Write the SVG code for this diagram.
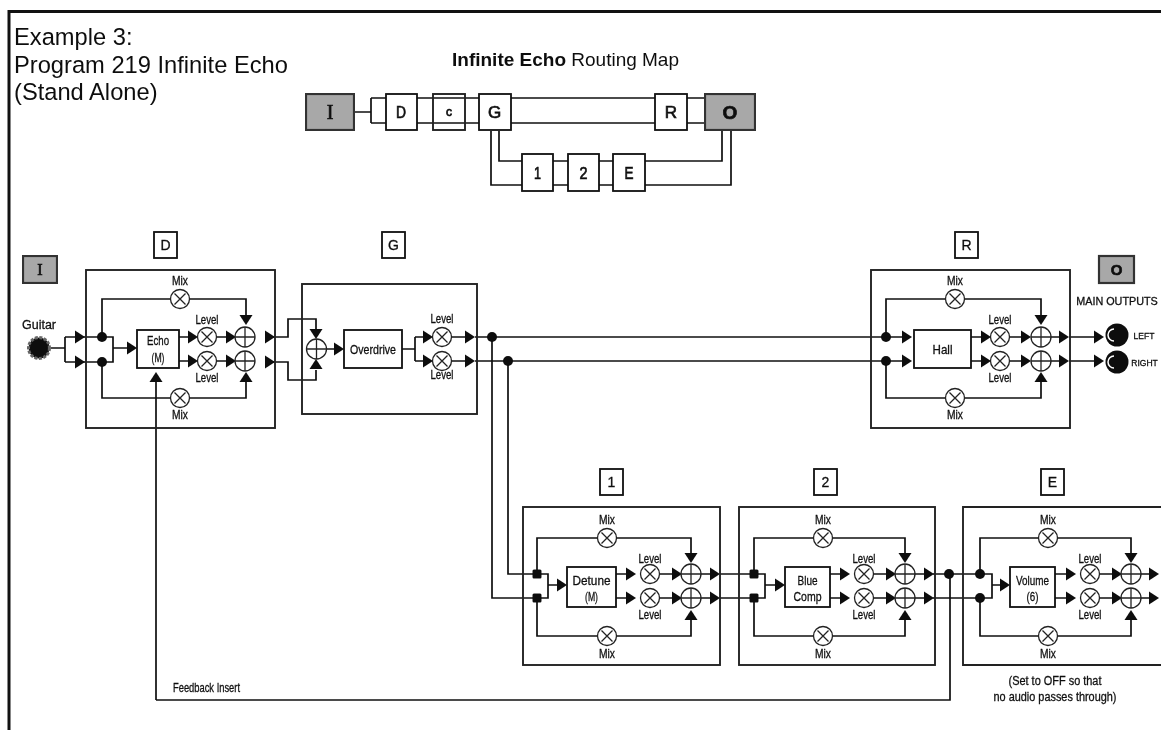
<svg xmlns="http://www.w3.org/2000/svg" width="1161" height="730" viewBox="0 0 1161 730">
<style>
text{font-family:"Liberation Sans",Arial,sans-serif;fill:#111}
.big{font-size:23.7px}
.map{font-size:19px}
.s{font-size:12.5px;text-anchor:middle;stroke:#111;stroke-width:.3}
.b{font-size:13px;text-anchor:middle;stroke:#111;stroke-width:.3}
.lab{font-size:14px;text-anchor:middle;stroke:#111;stroke-width:.3}
.l{font-size:17px;text-anchor:middle;stroke:#111;stroke-width:.7}
.w{fill:none;stroke:#111;stroke-width:1.7}
.box{fill:#fff;stroke:#111;stroke-width:1.8}
.blk{fill:none;stroke:#222;stroke-width:1.9}
.gr{fill:#a8a8a8;stroke:#333;stroke-width:2.2}
.sym{fill:#fff;stroke:#222;stroke-width:1.3}
.g1{filter:url(#soft)}
</style>
<defs>
<filter id="soft" x="-2%" y="-2%" width="104%" height="104%"><feGaussianBlur stdDeviation="0.35"/></filter>
<path id="r" d="M-10-6.500L0 0-10 6.500Z" fill="#111"/>
<path id="d" d="M-6.500-10L0 0 6.500-10Z" fill="#111"/>
<path id="u" d="M-6.500 10L0 0 6.500 10Z" fill="#111"/>
<circle id="dot" r="5" fill="#111"/>
<rect id="sq" x="-4.500" y="-4.500" width="9" height="9" rx="1.500" fill="#111"/>
<g id="x"><circle r="9.500" class="sym"/><path d="M-5.500-5.500L5.500 5.500M-5.500 5.500L5.500-5.500" class="sym"/></g>
<g id="p"><circle r="10" class="sym"/><path d="M-10 0H10M0-10V10" class="sym"/></g>
</defs>
<rect width="1161" height="730" fill="#fff"/>
<path id="frame" d="M9 730V11.500H1161" fill="none" stroke="#111" stroke-width="3"/>
<g id="titles" class="g1">
<text class="big" x="14" y="45">Example 3:</text>
<text class="big" x="14" y="73">Program 219 Infinite Echo</text>
<text class="big" x="14" y="100">(Stand Alone)</text>
<text class="map" x="452" y="66"><tspan font-weight="bold">Infinite Echo</tspan> Routing Map</text>
</g>
<g id="connectors" class="g1">
<path class="w" d="M354 112H371M371 98V123M371 98H705M371 123H705M499 131V161H722V131M491 131V185H731V131"/>
<path class="w" d="M51 348H65M65 337V362M65 337H113V362H65M113 348H127M102 337V299H246V315M102 362V398H246V382M179 337H188M179 361H188M217 337H226M217 361H226M265 337H288V319H316V330M265 362H288V380H316V370M156 700V382M156 700H950V574M327 349H335M402 349H415M415 337V361M415 337H423M415 361H423M452 337H465M452 361H465M475 337H902M475 361H902M492 337V598H548V574H508V361M548 585H557M537 574V538H691V553M537 598V636H691V620M616 574H626M616 598H626M660 574H672M660 598H672M701 574H710M701 598H710M720 574H765V598H720M765 585H775M754 574V538H905V553M754 598V636H905V620M830 574H840M830 598H840M874 574H886M874 598H886M915 574H924M915 598H924M933 574H992V598H933M992 585H1000M980 574V538H1131V553M980 598V636H1131V620M1055 574H1066M1055 598H1066M1100 574H1112M1100 598H1112M1141 574H1149M1141 598H1149M886 337V299H1041V315M886 361V398H1041V382M971 337H981M971 361H981M1010 337H1021M1010 361H1021M1051 337H1059M1051 361H1059M1069 337H1094M1069 361H1094"/>
<g id="arrows">
<use href="#r" x="85" y="337"/><use href="#r" x="85" y="362"/><use href="#r" x="137" y="348"/>
<use href="#d" x="246" y="325"/><use href="#u" x="246" y="372"/><use href="#u" x="156" y="372"/>
<use href="#r" x="198" y="337"/><use href="#r" x="198" y="361"/><use href="#r" x="236" y="337"/><use href="#r" x="236" y="361"/>
<use href="#r" x="275" y="337"/><use href="#r" x="275" y="362"/>
<use href="#d" x="316" y="339"/><use href="#u" x="316" y="359"/><use href="#r" x="344" y="349"/>
<use href="#r" x="433" y="337"/><use href="#r" x="433" y="361"/><use href="#r" x="475" y="337"/><use href="#r" x="475" y="361"/>
<use href="#r" x="567" y="585"/><use href="#d" x="691" y="563"/><use href="#u" x="691" y="610"/>
<use href="#r" x="636" y="574"/><use href="#r" x="636" y="598"/><use href="#r" x="682" y="574"/><use href="#r" x="682" y="598"/>
<use href="#r" x="720" y="574"/><use href="#r" x="720" y="598"/>
<use href="#r" x="785" y="585"/><use href="#d" x="905" y="563"/><use href="#u" x="905" y="610"/>
<use href="#r" x="850" y="574"/><use href="#r" x="850" y="598"/><use href="#r" x="896" y="574"/><use href="#r" x="896" y="598"/>
<use href="#r" x="934" y="574"/><use href="#r" x="934" y="598"/>
<use href="#r" x="1010" y="585"/><use href="#d" x="1131" y="563"/><use href="#u" x="1131" y="610"/>
<use href="#r" x="1076" y="574"/><use href="#r" x="1076" y="598"/><use href="#r" x="1122" y="574"/><use href="#r" x="1122" y="598"/>
<use href="#r" x="1159" y="574"/><use href="#r" x="1159" y="598"/>
<use href="#r" x="912" y="337"/><use href="#r" x="912" y="361"/>
<use href="#d" x="1041" y="325"/><use href="#u" x="1041" y="372"/>
<use href="#r" x="991" y="337"/><use href="#r" x="991" y="361"/><use href="#r" x="1031" y="337"/><use href="#r" x="1031" y="361"/>
<use href="#r" x="1069" y="337"/><use href="#r" x="1069" y="361"/><use href="#r" x="1104" y="337"/><use href="#r" x="1104" y="361"/>
</g>
<g id="junctions">
<use href="#dot" x="102" y="337"/><use href="#dot" x="102" y="362"/>
<use href="#dot" x="492" y="337"/><use href="#dot" x="508" y="361"/>
<use href="#dot" x="886" y="337"/><use href="#dot" x="886" y="361"/>
<use href="#sq" x="537" y="574"/><use href="#sq" x="537" y="598"/>
<use href="#sq" x="754" y="574"/><use href="#sq" x="754" y="598"/>
<use href="#dot" x="949" y="574"/>
<use href="#dot" x="980" y="574"/><use href="#dot" x="980" y="598"/>
</g>
</g>
<g id="map-I" class="g1"><rect class="gr" x="306" y="94" width="48" height="36"/><text class="l" x="330" y="119" style="font-family:'Liberation Serif',serif;font-size:20px">I</text></g>
<g id="map-D" class="g1"><rect class="box" x="386" y="94" width="31" height="36"/><text class="l" x="401" y="118" textLength="10" lengthAdjust="spacingAndGlyphs">D</text></g>
<g id="map-c" class="g1"><rect class="blk" x="433" y="94" width="32" height="36"/><text class="l" x="449" y="116" style="font-size:12px">c</text></g>
<g id="map-G" class="g1"><rect class="box" x="479" y="94" width="32" height="36"/><text class="l" x="494.500" y="118">G</text></g>
<g id="map-R" class="g1"><rect class="box" x="655" y="94" width="32" height="36"/><text class="l" x="671" y="118">R</text></g>
<g id="map-O" class="g1"><rect class="gr" x="705" y="94" width="50" height="36"/><text class="l" x="730" y="119" style="font-size:19px;font-weight:bold">O</text></g>
<g id="map-1" class="g1"><rect class="box" x="522" y="154" width="31" height="37"/><text class="l" x="537.500" y="179" textLength="7" lengthAdjust="spacingAndGlyphs">1</text></g>
<g id="map-2" class="g1"><rect class="box" x="568" y="154" width="31" height="37"/><text class="l" x="583.500" y="179" textLength="8" lengthAdjust="spacingAndGlyphs">2</text></g>
<g id="map-E" class="g1"><rect class="box" x="613" y="154" width="32" height="37"/><text class="l" x="629" y="179" textLength="9" lengthAdjust="spacingAndGlyphs">E</text></g>

<g id="in-I" class="g1"><rect class="gr" x="23" y="256" width="34" height="27"/><text class="l" x="40" y="275" style="font-family:'Liberation Serif',serif;font-size:16px">I</text></g>
<g id="guitar" class="g1"><text class="s" x="39" y="329" textLength="34" lengthAdjust="spacingAndGlyphs">Guitar</text><circle cx="39" cy="348" r="10.500" fill="#111" stroke="#666" stroke-width="3" stroke-dasharray="3 1.500"/></g>

<g id="block-D" class="g1"><rect class="box" x="154" y="232" width="23" height="26"/><text class="lab" x="165.500" y="250">D</text><rect class="blk" x="86" y="270" width="189" height="158"/>
<rect class="box" x="137" y="330" width="42" height="38"/><text class="b" x="158" y="345" textLength="22" lengthAdjust="spacingAndGlyphs">Echo</text><text class="b" x="158" y="362" textLength="13" lengthAdjust="spacingAndGlyphs">(M)</text>
<text class="s" x="180" y="284.500" textLength="16" lengthAdjust="spacingAndGlyphs">Mix</text><use href="#x" x="180" y="299"/><use href="#x" x="180" y="398"/><text class="s" x="180" y="418.500" textLength="16" lengthAdjust="spacingAndGlyphs">Mix</text>
<text class="s" x="207" y="323.500" textLength="23" lengthAdjust="spacingAndGlyphs">Level</text><use href="#x" x="207" y="337"/><use href="#x" x="207" y="361"/><text class="s" x="207" y="381.500" textLength="23" lengthAdjust="spacingAndGlyphs">Level</text>
<use href="#p" x="245" y="337"/><use href="#p" x="245" y="361"/></g>

<g id="block-G" class="g1"><rect class="box" x="382" y="232" width="23" height="26"/><text class="lab" x="393.500" y="250">G</text><rect class="blk" x="302" y="284" width="175" height="130"/>
<use href="#p" x="316.500" y="349"/><rect class="box" x="344" y="330" width="58" height="38"/><text class="b" x="373" y="354" textLength="46" lengthAdjust="spacingAndGlyphs">Overdrive</text>
<text class="s" x="442" y="322.500" textLength="23" lengthAdjust="spacingAndGlyphs">Level</text><use href="#x" x="442" y="337"/><use href="#x" x="442" y="361"/><text class="s" x="442" y="378.500" textLength="23" lengthAdjust="spacingAndGlyphs">Level</text></g>

<g id="block-R" class="g1"><rect class="box" x="955" y="232" width="23" height="26"/><text class="lab" x="966.500" y="250">R</text><rect class="blk" x="871" y="270" width="199" height="158"/>
<rect class="box" x="914" y="330" width="57" height="38"/><text class="b" x="942.500" y="354" textLength="20" lengthAdjust="spacingAndGlyphs">Hall</text>
<text class="s" x="955" y="284.500" textLength="16" lengthAdjust="spacingAndGlyphs">Mix</text><use href="#x" x="955" y="299"/><use href="#x" x="955" y="398"/><text class="s" x="955" y="418.500" textLength="16" lengthAdjust="spacingAndGlyphs">Mix</text>
<text class="s" x="1000" y="323.500" textLength="23" lengthAdjust="spacingAndGlyphs">Level</text><use href="#x" x="1000" y="337"/><use href="#x" x="1000" y="361"/><text class="s" x="1000" y="381.500" textLength="23" lengthAdjust="spacingAndGlyphs">Level</text>
<use href="#p" x="1041" y="337"/><use href="#p" x="1041" y="361"/></g>

<g id="outputs" class="g1"><rect class="gr" x="1099" y="256" width="35" height="27"/><text class="l" x="1116.500" y="275" style="font-size:15px;font-weight:bold">O</text>
<text class="s" x="1117" y="305" style="font-size:10.800px">MAIN OUTPUTS</text>
<circle cx="1117" cy="335" r="11.500" fill="#111"/><path d="M1114 329A6 6 0 0 0 1114 341" fill="none" stroke="#fff" stroke-width="1.500"/><text class="s" x="1144" y="338.500" style="font-size:8.500px">LEFT</text>
<circle cx="1117" cy="362" r="11.500" fill="#111"/><path d="M1114 356A6 6 0 0 0 1114 368" fill="none" stroke="#fff" stroke-width="1.500"/><text class="s" x="1144.500" y="365.500" style="font-size:8.500px">RIGHT</text></g>

<g id="block-1" class="g1"><rect class="box" x="600" y="469" width="23" height="26"/><text class="lab" x="611.500" y="487">1</text><rect class="blk" x="523" y="507" width="197" height="158"/>
<rect class="box" x="567" y="567" width="49" height="40"/><text class="b" x="591.500" y="585" textLength="38" lengthAdjust="spacingAndGlyphs">Detune</text><text class="b" x="591.500" y="601" textLength="13" lengthAdjust="spacingAndGlyphs">(M)</text>
<text class="s" x="607" y="523.500" textLength="16" lengthAdjust="spacingAndGlyphs">Mix</text><use href="#x" x="607" y="538"/><use href="#x" x="607" y="636"/><text class="s" x="607" y="657.500" textLength="16" lengthAdjust="spacingAndGlyphs">Mix</text>
<text class="s" x="650" y="562.500" textLength="23" lengthAdjust="spacingAndGlyphs">Level</text><use href="#x" x="650" y="574"/><use href="#x" x="650" y="598"/><text class="s" x="650" y="618.500" textLength="23" lengthAdjust="spacingAndGlyphs">Level</text>
<use href="#p" x="691" y="574"/><use href="#p" x="691" y="598"/></g>

<g id="block-2" class="g1"><rect class="box" x="814" y="469" width="23" height="26"/><text class="lab" x="825.500" y="487">2</text><rect class="blk" x="739" y="507" width="196" height="158"/>
<rect class="box" x="785" y="567" width="45" height="40"/><text class="b" x="807.500" y="585" textLength="20" lengthAdjust="spacingAndGlyphs">Blue</text><text class="b" x="807.500" y="601" textLength="28" lengthAdjust="spacingAndGlyphs">Comp</text>
<text class="s" x="823" y="523.500" textLength="16" lengthAdjust="spacingAndGlyphs">Mix</text><use href="#x" x="823" y="538"/><use href="#x" x="823" y="636"/><text class="s" x="823" y="657.500" textLength="16" lengthAdjust="spacingAndGlyphs">Mix</text>
<text class="s" x="864" y="562.500" textLength="23" lengthAdjust="spacingAndGlyphs">Level</text><use href="#x" x="864" y="574"/><use href="#x" x="864" y="598"/><text class="s" x="864" y="618.500" textLength="23" lengthAdjust="spacingAndGlyphs">Level</text>
<use href="#p" x="905" y="574"/><use href="#p" x="905" y="598"/></g>

<g id="block-E" class="g1"><rect class="box" x="1041" y="469" width="23" height="26"/><text class="lab" x="1052.500" y="487">E</text><path class="blk" d="M1161 507H963V665H1161"/>
<rect class="box" x="1010" y="567" width="45" height="40"/><text class="b" x="1032.500" y="585" textLength="33" lengthAdjust="spacingAndGlyphs">Volume</text><text class="b" x="1032.500" y="601" textLength="12" lengthAdjust="spacingAndGlyphs">(6)</text>
<text class="s" x="1048" y="523.500" textLength="16" lengthAdjust="spacingAndGlyphs">Mix</text><use href="#x" x="1048" y="538"/><use href="#x" x="1048" y="636"/><text class="s" x="1048" y="657.500" textLength="16" lengthAdjust="spacingAndGlyphs">Mix</text>
<text class="s" x="1090" y="562.500" textLength="23" lengthAdjust="spacingAndGlyphs">Level</text><use href="#x" x="1090" y="574"/><use href="#x" x="1090" y="598"/><text class="s" x="1090" y="618.500" textLength="23" lengthAdjust="spacingAndGlyphs">Level</text>
<use href="#p" x="1131" y="574"/><use href="#p" x="1131" y="598"/>
<text class="s" x="1055" y="684.500" textLength="93" lengthAdjust="spacingAndGlyphs">(Set to OFF so that</text><text class="s" x="1055" y="700.500" textLength="123" lengthAdjust="spacingAndGlyphs">no audio passes through)</text></g>

<text class="s g1" x="206.500" y="691.500" textLength="67" lengthAdjust="spacingAndGlyphs">Feedback Insert</text>
</svg>
